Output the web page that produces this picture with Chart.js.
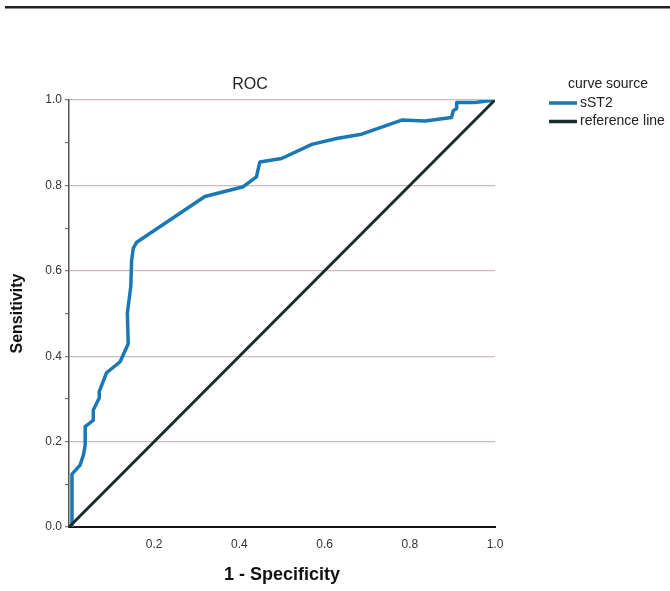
<!DOCTYPE html>
<html>
<head>
<meta charset="utf-8">
<title>ROC</title>
<script src="https://cdn.jsdelivr.net/npm/chart.js@4/dist/chart.umd.min.js"></script>
<style>
  body { margin: 0; background: #fff; }
  canvas { display: block; }
</style>
</head>
<body>
<canvas id="roc" width="670" height="591"></canvas>
<script>
// values (1 - specificity, sensitivity)
const sst2Fpr = [0.007, 0.007, 0.026, 0.034, 0.038, 0.038, 0.057, 0.057, 0.071, 0.071,
                 0.088, 0.120, 0.139, 0.137, 0.145, 0.147, 0.151, 0.159, 0.319, 0.409,
                 0.440, 0.448, 0.499, 0.570, 0.628, 0.687, 0.781, 0.836, 0.898, 0.902,
                 0.910, 0.910, 0.953, 1.000];
const sst2Tpr = [0.000, 0.124, 0.145, 0.169, 0.192, 0.235, 0.250, 0.274, 0.302, 0.317,
                 0.361, 0.387, 0.429, 0.501, 0.563, 0.625, 0.653, 0.667, 0.774, 0.797,
                 0.820, 0.855, 0.863, 0.896, 0.910, 0.920, 0.953, 0.951, 0.959, 0.975,
                 0.980, 0.994, 0.994, 1.000];
const refX = [0, 1];
const refY = [0, 1];

const seriesNames = ['sST2', 'reference line'];
const seriesColors = ['#1a78b5', '#1d2b2e'];
const legendTitle = 'curve source';
const chartTitle = 'ROC';
const xTitle = '1 - Specificity';
const yTitle = 'Sensitivity';

const toPoints = (xs, ys) => xs.map((x, i) => ({ x: x, y: ys[i] }));
const FONT = "'Liberation Sans', Arial, sans-serif";

// rule at the top, title and the legend are drawn by hand
const decorations = {
    id: 'decorations',
    afterDraw: (chart) => {
        const ctx = chart.ctx;
        const area = chart.chartArea;
        ctx.save();
        ctx.fillStyle = '#231f20';
        ctx.fillRect(5, 6, 665, 2.5);

        ctx.fillStyle = '#222';
        ctx.font = '16px ' + FONT;
        ctx.textAlign = 'center';
        ctx.textBaseline = 'middle';
        ctx.fillText(chartTitle, area.left + 181, area.top - 15);

        ctx.font = '14px ' + FONT;
        ctx.fillText(legendTitle, 608, 84);
        ctx.textAlign = 'left';
        const order = [0, 1];
        order.forEach((d, i) => {
            const ds = chart.data.datasets[d];
            const y = 103 + i * 18.5;
            ctx.strokeStyle = ds.borderColor;
            ctx.lineWidth = 3.5;
            ctx.beginPath();
            ctx.moveTo(549, y);
            ctx.lineTo(577, y);
            ctx.stroke();
            ctx.fillStyle = '#222';
            ctx.fillText(ds.label, 580, y);
        });
        ctx.restore();
    }
};

const isMajor = v => Math.round(v * 10) % 2 === 0;

new Chart(document.getElementById('roc').getContext('2d'), {
    type: 'scatter',
    data: {
        datasets: [
            {
                label: seriesNames[0],
                data: toPoints(sst2Fpr, sst2Tpr),
                showLine: true,
                borderColor: seriesColors[0],
                borderWidth: 3.5,
                pointRadius: 0,
                borderJoinStyle: 'round',
                tension: 0,
                order: 1
            },
            {
                label: seriesNames[1],
                data: toPoints(refX, refY),
                showLine: true,
                borderColor: seriesColors[1],
                borderWidth: 3,
                pointRadius: 0,
                order: 0
            }
        ]
    },
    options: {
        responsive: false,
        animation: false,
        layout: { padding: { top: 100, right: 175, left: 0, bottom: 0 } },
        plugins: {
            legend: { display: false },
            title: { display: false },
            tooltip: { enabled: false }
        },
        scales: {
            x: {
                type: 'linear',
                min: 0,
                max: 1,
                afterFit: s => { s.height = 64; },
                ticks: {
                    stepSize: 0.2,
                    padding: 10,
                    color: '#333',
                    font: { family: FONT, size: 12 },
                    callback: v => v === 0 ? '' : v.toFixed(1)
                },
                grid: { display: false, drawTicks: false },
                border: { display: true, color: '#111', width: 2 },
                title: {
                    display: true,
                    text: xTitle,
                    color: '#111',
                    font: { family: FONT, size: 18, weight: 'bold' },
                    padding: { top: 0, bottom: 5 }
                }
            },
            y: {
                type: 'linear',
                min: 0,
                max: 1,
                afterFit: s => { s.width = 69; },
                ticks: {
                    stepSize: 0.1,
                    padding: 3,
                    color: '#333',
                    font: { family: FONT, size: 12 },
                    callback: v => isMajor(v) ? v.toFixed(1) : ''
                },
                grid: {
                    color: c => (c.tick && c.tick.value > 0.01 && isMajor(c.tick.value)) ? '#c9bcbc' : 'rgba(0,0,0,0)',
                    lineWidth: 1.2,
                    tickColor: '#777',
                    tickLength: 4
                },
                border: { display: true, color: '#555', width: 1.5 },
                title: {
                    display: true,
                    text: yTitle,
                    color: '#111',
                    font: { family: FONT, size: 16, weight: 'bold' },
                    padding: { top: 8, bottom: 0 }
                }
            }
        }
    },
    plugins: [decorations]
});
</script>
</body>
</html>
